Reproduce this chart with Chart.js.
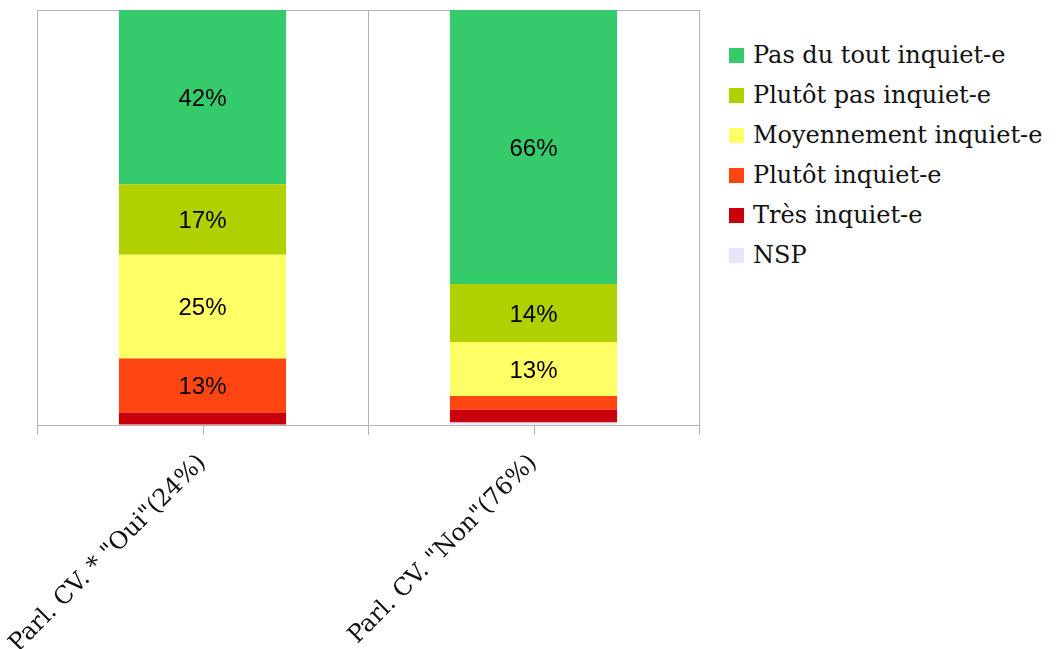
<!DOCTYPE html>
<html lang="fr">
<head>
<meta charset="utf-8">
<title>Inquiétude selon Parl. CV.</title>
<script src="https://cdn.jsdelivr.net/npm/chart.js@4.4.1/dist/chart.umd.min.js"></script>
<style>
    html, body { margin: 0; padding: 0; background: #fff; }
    .wrap { position: relative; width: 1059px; height: 649px; }
    .chart-box { position: absolute; left: 0; top: 0; width: 720px; height: 649px; }
    .legend { position: absolute; left: 729px; top: 35px; margin: 0; padding: 0; list-style: none;
              font-family: "DejaVu Serif", serif; font-size: 24px; color: #111; }
    .legend li { height: 40px; line-height: 40px; white-space: nowrap; }
    .legend span { display: inline-block; width: 15px; height: 15px; margin-right: 9px; vertical-align: 0px; }
</style>
</head>
<body>
<div class="wrap">
    <div class="chart-box"><canvas id="inquietChart"></canvas></div>
    <ul class="legend" id="legend"></ul>
</div>
<script>
const categories = ['Parl. CV. * "Oui"(24%)', 'Parl. CV. "Non"(76%)'];

// stacked from the bottom up
const seriesNames = ['NSP', 'Très inquiet-e', 'Plutôt inquiet-e', 'Moyennement inquiet-e', 'Plutôt pas inquiet-e', 'Pas du tout inquiet-e'];
const nsp = [0, 0.6];
const tresInquiet = [3, 3.1];
const plutotInquiet = [13, 3.3];
const moyennement = [25, 13];
const plutotPas = [17, 14];
const pasDuTout = [42, 66];
const seriesColors = ['#e6e6fa', '#c9000b', '#ff4512', '#ffff66', '#b0d000', '#35cb6a'];

const yTicks = [0, 100];

const seriesValues = [nsp, tresInquiet, plutotInquiet, moyennement, plutotPas, pasDuTout];

// percent labels inside the larger segments
const barLabels = {
    id: 'barLabels',
    afterDatasetsDraw(chart) {
        const ctx = chart.ctx;
        ctx.save();
        ctx.font = '24px "Liberation Sans", Arial, sans-serif';
        ctx.fillStyle = '#000';
        ctx.textAlign = 'center';
        ctx.textBaseline = 'middle';
        chart.data.datasets.forEach((ds, i) => {
            chart.getDatasetMeta(i).data.forEach((bar, j) => {
                const v = ds.data[j];
                if (v < 10) return;
                const p = bar.getCenterPoint();
                ctx.fillText(Math.round(v) + '%', p.x, p.y + 2);
            });
        });
        ctx.restore();
    }
};

// short tick marks under the centre of each category
const centreTicks = {
    id: 'centreTicks',
    afterDraw(chart) {
        const x = chart.scales.x;
        const ctx = chart.ctx;
        ctx.save();
        ctx.strokeStyle = '#b3b3b3';
        ctx.lineWidth = 1;
        categories.forEach((c, i) => {
            const px = Math.round(x.getPixelForValue(i)) + 0.5;
            ctx.beginPath();
            ctx.moveTo(px, x.top);
            ctx.lineTo(px, x.top + 10);
            ctx.stroke();
        });
        ctx.restore();
    }
};

new Chart(document.getElementById('inquietChart'), {
    type: 'bar',
    data: {
        labels: categories,
        datasets: seriesNames.map((name, i) => ({
            label: name,
            data: seriesValues[i],
            backgroundColor: seriesColors[i],
            borderWidth: 0,
            barPercentage: 0.505,
            categoryPercentage: 1
        }))
    },
    options: {
        responsive: true,
        maintainAspectRatio: false,
        animation: false,
        layout: { padding: { left: 37, right: 21, top: 10, bottom: 0 } },
        plugins: {
            legend: { display: false },
            tooltip: { enabled: false }
        },
        scales: {
            x: {
                stacked: true,
                grid: { color: '#b3b3b3', tickLength: 10, offset: true },
                border: { color: '#b3b3b3' },
                ticks: {
                    minRotation: 45,
                    maxRotation: 45,
                    padding: 14,
                    color: '#111',
                    font: { family: '"DejaVu Serif", serif', size: 24 }
                },
                afterFit(scale) {
                    scale.height = 224;
                    // let the slanted labels run past the plot's left edge
                    scale.paddingLeft = 0;
                    scale.paddingRight = 0;
                }
            },
            y: {
                stacked: true,
                min: yTicks[0],
                max: yTicks[1],
                afterBuildTicks(scale) { scale.ticks = yTicks.map(v => ({ value: v })); },
                grid: { color: '#b3b3b3', drawTicks: false },
                border: { color: '#b3b3b3' },
                ticks: { display: false },
                afterFit(scale) { scale.width = 0; }
            }
        }
    },
    plugins: [barLabels, centreTicks]
});

// legend, top entry is the top of the stack
const legend = document.getElementById('legend');
seriesNames.slice().reverse().forEach((name, k) => {
    const i = seriesNames.length - 1 - k;
    const li = document.createElement('li');
    const sw = document.createElement('span');
    sw.style.background = seriesColors[i];
    li.appendChild(sw);
    li.appendChild(document.createTextNode(name));
    legend.appendChild(li);
});
</script>
</body>
</html>
